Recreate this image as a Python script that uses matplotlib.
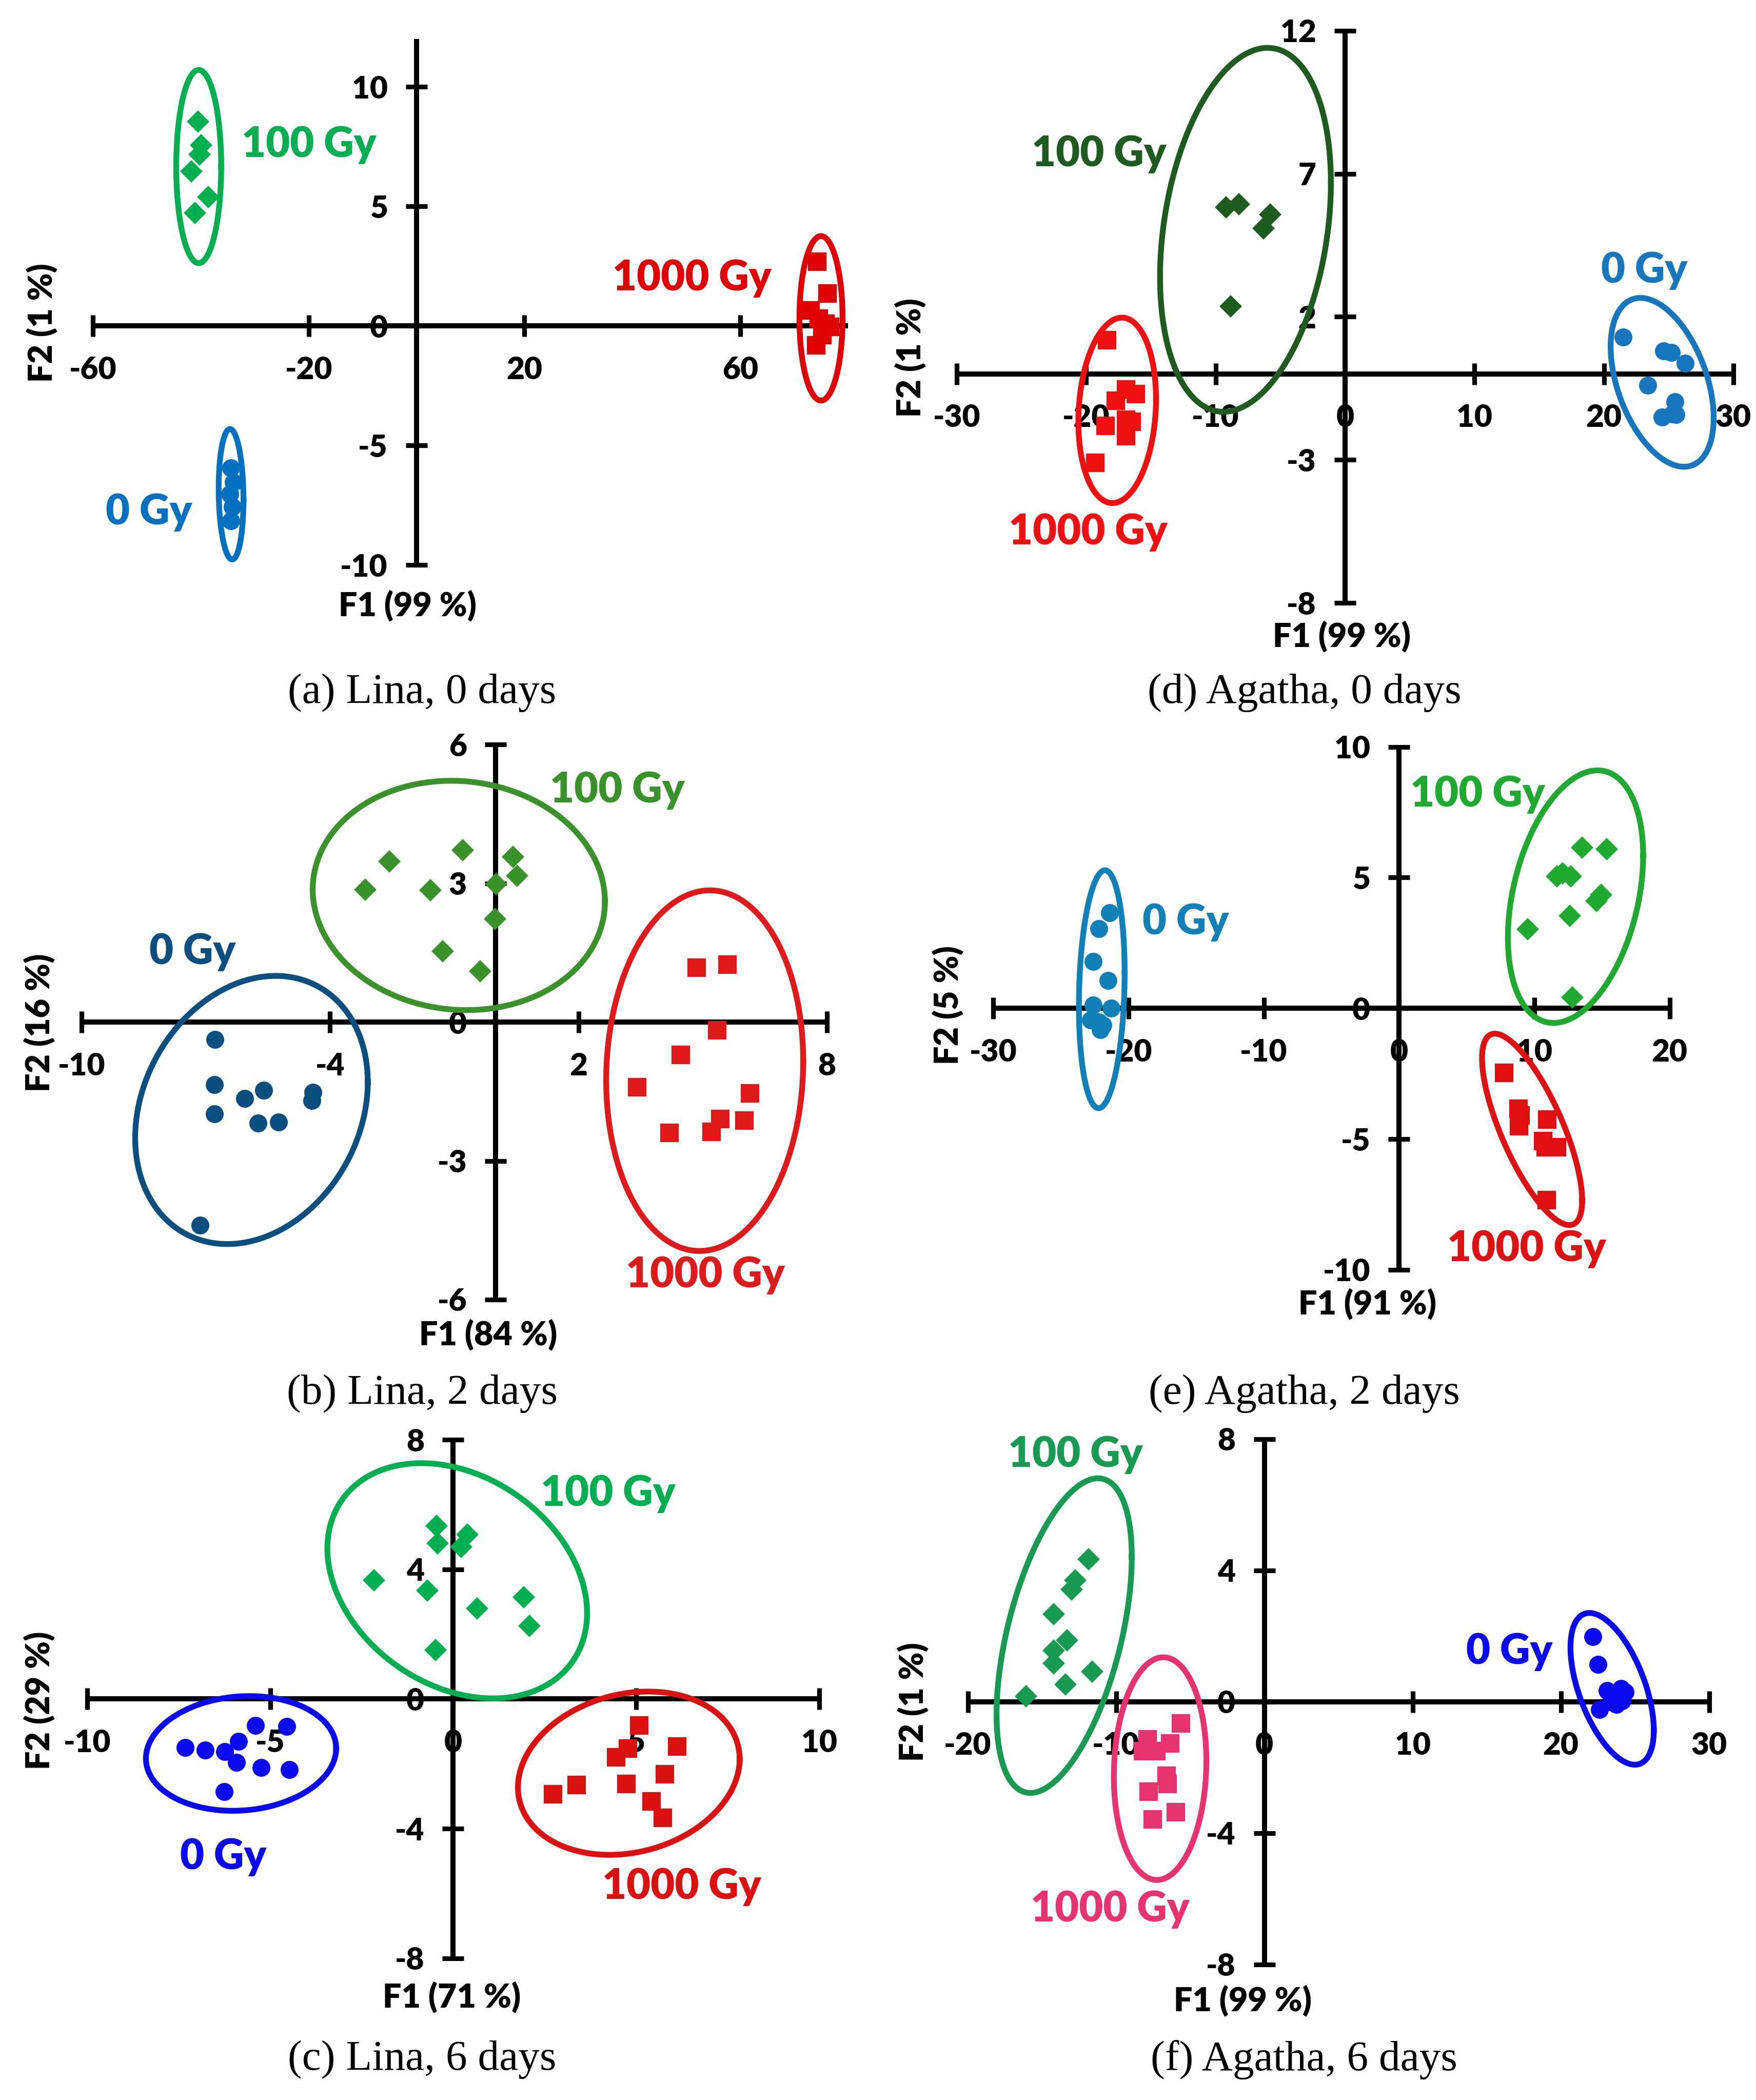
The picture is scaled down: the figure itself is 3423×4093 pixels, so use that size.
import numpy as np
import matplotlib
matplotlib.use("Agg")
import matplotlib.pyplot as plt

# ---------------- data ----------------
# ellipse params: [cx, cy, half-width x, half-height y, phase(deg)]
# ---- (a) Lina, 0 days
a_0_x = [-34.4, -34.0, -34.6, -34.2, -34.4]
a_0_y = [-5.93, -6.53, -7.04, -7.56, -8.15]
a_100_x = [-40.5, -40.0, -40.2, -41.8, -38.6, -41.1]
a_100_y = [8.55, 7.57, 7.18, 6.46, 5.40, 4.72]
a_1000_x = [74.3, 76.2, 73.1, 74.6, 76.7, 75.2, 74.1, 75.8]
a_1000_y = [2.70, 1.37, 0.65, 0.30, -0.03, -0.38, -0.80, 0.10]
a_0_ell = [-34.4, -7.04, 2.3, 2.73, 95]
a_100_ell = [-40.4, 6.67, 4.17, 4.04, 90]
a_1000_ell = [75.0, 0.32, 4.0, 3.44, 90]

# ---- (d) Agatha, 0 days
d_0_x = [21.5, 24.6, 25.2, 26.3, 23.4, 25.5, 25.3, 24.5, 25.55]
d_0_y = [1.30, 0.80, 0.76, 0.37, -0.39, -0.96, -1.39, -1.50, -1.41]
d_100_x = [-9.19, -8.18, -5.79, -6.31, -8.84]
d_100_y = [5.83, 5.94, 5.57, 5.09, 2.36]
d_1000_x = [-18.4, -16.9, -16.15, -17.7, -16.9, -16.5, -18.5, -16.9, -19.3]
d_1000_y = [1.19, -0.53, -0.70, -0.93, -1.60, -1.67, -1.81, -2.17, -3.10]
d_0_ell = [24.5, -0.29, 3.98, 2.95, 115]
d_100_ell = [-7.69, 5.04, 6.6, 6.36, 75]
d_1000_ell = [-17.6, -1.27, 3.0, 3.24, 83]

# ---- (b) Lina, 2 days
b_0_x = [-6.78, -6.80, -5.60, -6.06, -4.41, -4.44, -6.80, -5.74, -5.25, -7.14]
b_0_y = [-0.37, -1.35, -1.47, -1.65, -1.52, -1.70, -1.99, -2.18, -2.16, -4.39]
b_100_x = [-0.80, -2.57, 0.42, -3.15, -1.58, 0.52, 0.01, -0.01, -1.28, -0.38]
b_100_y = [3.72, 3.47, 3.58, 2.87, 2.85, 3.17, 2.99, 2.23, 1.53, 1.10]
b_1000_x = [4.85, 5.60, 5.35, 4.47, 3.42, 6.14, 6.01, 5.42, 4.20, 5.22]
b_1000_y = [1.18, 1.24, -0.18, -0.71, -1.41, -1.54, -2.13, -2.09, -2.39, -2.37]
b_0_ell = [-5.9, -1.9, 2.81, 2.9, 78]
b_100_ell = [-0.89, 2.74, 3.53, 2.48, 93]
b_1000_ell = [5.05, -1.05, 2.38, 3.9, 87]

# ---- (e) Agatha, 2 days
e_0_x = [-21.4, -22.2, -22.6, -21.5, -22.6, -21.3, -22.8, -22.2, -21.9, -22.1]
e_0_y = [3.65, 3.05, 1.79, 1.06, 0.13, 0.0, -0.44, -0.52, -0.65, -0.81]
e_100_x = [13.54, 15.33, 12.08, 12.71, 14.92, 14.58, 12.63, 9.50, 12.79, 11.67]
e_100_y = [6.14, 6.09, 5.17, 5.04, 4.35, 4.11, 3.54, 3.02, 0.41, 5.05]
e_1000_x = [7.75, 8.83, 8.96, 8.88, 10.96, 10.63, 11.67, 10.83, 10.92]
e_1000_y = [-2.47, -3.85, -4.09, -4.50, -4.26, -5.07, -5.31, -5.31, -7.34]
e_0_ell = [-21.98, 0.73, 1.69, 4.55, 82]
e_100_ell = [13.04, 4.27, 5.0, 4.83, 71]
e_1000_ell = [9.83, -4.63, 3.7, 3.66, 138]

# ---- (c) Lina, 6 days
c_0_x = [-5.41, -4.55, -7.33, -6.78, -6.24, -5.87, -5.93, -5.25, -4.48, -6.26]
c_0_y = [-0.81, -0.85, -1.49, -1.57, -1.63, -1.30, -1.96, -2.11, -2.18, -2.86]
c_100_x = [-0.46, 0.39, -0.43, 0.22, -2.16, -0.71, 0.65, 1.93, 2.08, -0.48]
c_100_y = [5.35, 5.07, 4.81, 4.70, 3.66, 3.35, 2.80, 3.14, 2.26, 1.52]
c_1000_x = [5.08, 6.12, 4.78, 4.45, 5.78, 3.37, 4.73, 2.73, 5.42, 5.73]
c_1000_y = [-0.81, -1.46, -1.53, -1.80, -2.32, -2.66, -2.62, -2.93, -3.16, -3.66]
c_0_ell = [-5.8, -1.68, 2.6, 1.77, 85]
c_100_ell = [0.11, 3.65, 3.55, 3.63, 106]
c_1000_ell = [4.8, -2.29, 3.03, 2.52, 80]

# ---- (f) Agatha, 6 days
f_0_x = [22.17, 22.51, 23.12, 24.07, 24.33, 23.38, 24.14, 22.62, 23.76]
f_0_y = [1.97, 1.14, 0.33, 0.40, 0.29, 0.0, 0.03, -0.24, -0.08]
f_100_x = [-11.86, -12.74, -13.0, -14.22, -13.31, -14.22, -14.22, -11.6, -13.42, -16.08]
f_100_y = [4.34, 3.70, 3.41, 2.67, 1.87, 1.56, 1.16, 0.92, 0.52, 0.16]
f_1000_x = [-5.63, -7.87, -6.35, -8.17, -7.30, -6.58, -6.54, -7.79, -5.97, -7.53]
f_1000_y = [-0.67, -1.15, -1.27, -1.51, -1.51, -2.25, -2.51, -2.74, -3.36, -3.58]
f_0_ell = [23.46, 0.39, 2.81, 2.31, 123]
f_100_ell = [-13.5, 2.01, 4.56, 4.79, 60]
f_1000_ell = [-7.03, -2.04, 3.12, 3.39, 86]

group_names = ["0 Gy", "100 Gy", "1000 Gy"]
captions = ["(a) Lina, 0 days", "(d) Agatha, 0 days", "(b) Lina, 2 days",
            "(e) Agatha, 2 days", "(c) Lina, 6 days", "(f) Agatha, 6 days"]
f1_labels = ["F1 (99 %)", "F1 (99 %)", "F1 (84 %)", "F1 (91 %)", "F1 (71 %)", "F1 (99 %)"]
f2_labels = ["F2 (1 %)", "F2 (1 %)", "F2 (16 %)", "F2 (5 %)", "F2 (29 %)", "F2 (1 %)"]
xticks_all = [[-60, -20, 20, 60], [-30, -20, -10, 0, 10, 20, 30], [-10, -4, 2, 8],
              [-30, -20, -10, 0, 10, 20], [-10, -5, 0, 5, 10], [-20, -10, 0, 10, 20, 30]]
yticks_all = [[-10, -5, 0, 5, 10], [-8, -3, 2, 7, 12], [-6, -3, 0, 3, 6],
              [-10, -5, 0, 5, 10], [-8, -4, 0, 4, 8], [-8, -4, 0, 4, 8]]
xlims = [(-60, 80), (-30, 30), (-10, 8), (-30, 20), (-10, 10), (-20, 30)]
ylims = [(-10, 12), (-8, 12), (-6, 6), (-10, 10), (-8, 8), (-8, 8)]

# ---------------- layout (in a 1310 x 1567 reference grid) ----------------
REF_W, REF_H = 1310.0, 1567.0
# data-box of each panel: left, right, top, bottom
boxes = [(69.4, 632.6, 29.2, 421.6), (713.7, 1293.1, 22.9, 449.9),
         (61.0, 616.8, 555.7, 969.7), (741.0, 1245.6, 557.3, 947.5),
         (65.2, 611.0, 1074.4, 1461.2), (722.0, 1275.0, 1073.7, 1465.8)]
cap_pos = [(315, 517), (973, 517), (315, 1040), (973, 1040), (315, 1537), (973, 1537)]
f1_pos = [(304, 452), (1001, 475), (364, 996), (1020, 973), (337, 1490), (927, 1493)]
f2_pos = [(31, 241), (679, 267), (29, 763), (707, 750), (29, 1269), (681, 1270)]

panels = [
    dict(groups=[(a_0_x, a_0_y, a_0_ell, "o", "#0070C0", (-57.7, -7.8)),
                 (a_100_x, a_100_y, a_100_ell, "D", "#00B050", (-32.4, 7.57)),
                 (a_1000_x, a_1000_y, a_1000_ell, "s", "#E00000", (36.3, 2.0))]),
    dict(groups=[(d_0_x, d_0_y, d_0_ell, "o", "#1677BE", (19.8, 3.61)),
                 (d_100_x, d_100_y, d_100_ell, "D", "#1E5B1E", (-24.2, 7.69)),
                 (d_1000_x, d_1000_y, d_1000_ell, "s", "#F01010", (-26.0, -5.53))]),
    dict(groups=[(b_0_x, b_0_y, b_0_ell, "o", "#0B4F80", (-8.37, 1.52)),
                 (b_100_x, b_100_y, b_100_ell, "D", "#3A922A", (1.31, 5.01)),
                 (b_1000_x, b_1000_y, b_1000_ell, "s", "#E01A1A", (3.15, -5.47))]),
    dict(groups=[(e_0_x, e_0_y, e_0_ell, "o", "#0F80B8", (-18.96, 3.3)),
                 (e_100_x, e_100_y, e_100_ell, "D", "#1DAA2F", (0.83, 8.17)),
                 (e_1000_x, e_1000_y, e_1000_ell, "s", "#E01010", (3.54, -9.21))]),
    dict(groups=[(c_0_x, c_0_y, c_0_ell, "o", "#0A0AF0", (-7.47, -4.88)),
                 (c_100_x, c_100_y, c_100_ell, "D", "#00B050", (2.39, 6.33)),
                 (c_1000_x, c_1000_y, c_1000_ell, "s", "#DD1010", (4.08, -5.8))]),
    dict(groups=[(f_0_x, f_0_y, f_0_ell, "o", "#0A0AF0", (13.61, 1.52)),
                 (f_100_x, f_100_y, f_100_ell, "D", "#179A52", (-17.3, 7.51)),
                 (f_1000_x, f_1000_y, f_1000_ell, "s", "#E8336E", (-15.78, -6.32))]),
]

plt.rcParams["font.family"] = ["Lato", "DejaVu Sans"]
plt.rcParams["font.weight"] = "heavy"

fig = plt.figure(figsize=(3423 / 300, 4093 / 300), dpi=300)
fig.patch.set_facecolor("white")

def fx(x):
    return x / REF_W

def fy(y):
    return 1 - y / REF_H

t = np.linspace(0, 2 * np.pi, 400)
msize = {"o": 7.4, "D": 6.3, "s": 7.6}
WT = "heavy"

for i, p in enumerate(panels):
    l, r, top, bot = boxes[i]
    ax = fig.add_axes([fx(l), fy(bot), fx(r) - fx(l), (bot - top) / REF_H])
    ax.patch.set_visible(False)
    ax.set_xlim(*xlims[i])
    ax.set_ylim(*ylims[i])
    for s in ["top", "right"]:
        ax.spines[s].set_visible(False)
    for s in ["left", "bottom"]:
        ax.spines[s].set_position(("data", 0))
        ax.spines[s].set_linewidth(2.4)
        ax.spines[s].set_capstyle("butt")
    ax.set_xticks(xticks_all[i])
    ax.set_xticklabels([str(v) for v in xticks_all[i]])
    ax.set_yticks(yticks_all[i])
    ax.set_yticklabels([str(v) for v in yticks_all[i]])
    ax.tick_params(axis="both", direction="inout", length=10, width=2.2,
                   labelsize=14.5, color="black")
    ax.tick_params(axis="x", pad=9)
    ax.tick_params(axis="y", pad=8.5)
    for lab in ax.get_xticklabels() + ax.get_yticklabels():
        lab.set_fontweight(WT)
    for gx, gy, ell, mk, col, lpos in p["groups"]:
        cx, cy, wx, wy, ph = ell
        ex = cx + wx * np.cos(t)
        ey = cy + wy * np.cos(t - np.deg2rad(ph))
        ax.plot(ex, ey, color=col, lw=2.7, clip_on=False, zorder=3)
        ax.plot(gx, gy, ls="none", marker=mk, ms=msize[mk], color=col,
                mec=col, clip_on=False, zorder=4)
    for (gx, gy, ell, mk, col, lpos), name in zip(p["groups"], group_names):
        ax.text(lpos[0], lpos[1], name, color=col, fontsize=19.5,
                fontweight=WT, ha="left", va="center", zorder=5)
    fig.text(fx(f1_pos[i][0]), fy(f1_pos[i][1]), f1_labels[i], ha="center",
             va="center", fontsize=15.5, fontweight=WT)
    fig.text(fx(f2_pos[i][0]), fy(f2_pos[i][1]), f2_labels[i], ha="center",
             va="center", fontsize=15.5, fontweight=WT, rotation=90)
    fig.text(fx(cap_pos[i][0]), fy(cap_pos[i][1]), captions[i], ha="center",
             va="center", fontsize=20, fontweight="normal",
             family=["Liberation Serif", "DejaVu Serif"])

fig.savefig("out.png", dpi=300, facecolor="white")
